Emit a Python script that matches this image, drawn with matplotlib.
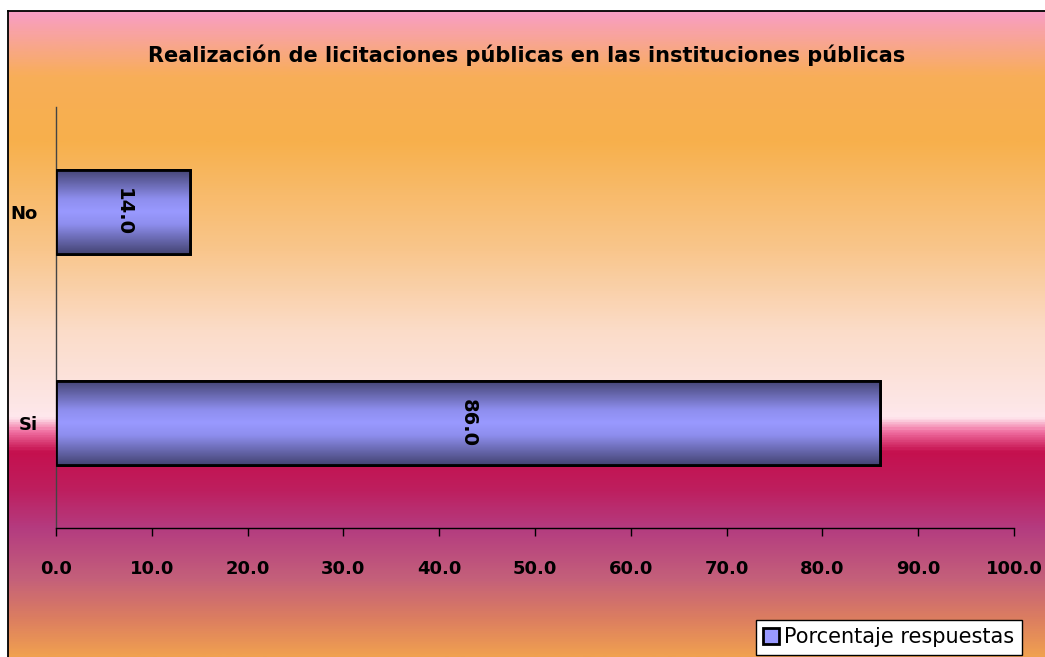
import numpy as np
import matplotlib
matplotlib.use("Agg")
import matplotlib.pyplot as plt
from matplotlib.colors import LinearSegmentedColormap

# data
categories = ["Si", "No"]
values = [86.0, 14.0]
x_ticks = [0, 10, 20, 30, 40, 50, 60, 70, 80, 90, 100]
series_name = "Porcentaje respuestas"
title = "Realización de licitaciones públicas en las instituciones públicas"

W, H = 1045, 657
fig = plt.figure(figsize=(W / 100, H / 100), dpi=100, facecolor="white")

# background gradient (top -> bottom)
bg_stops = [
    (0.000, "#F99EC4"),
    (0.037, "#F8A49C"),
    (0.099, "#F8AE58"),
    (0.200, "#F7B04C"),
    (0.370, "#F9C68C"),
    (0.494, "#FBDCC8"),
    (0.610, "#FDE6E6"),
    (0.630, "#FFE8EE"),
    (0.652, "#F06EA0"),
    (0.683, "#C5104E"),
    (0.741, "#BE1E5E"),
    (0.803, "#B43C80"),
    (0.881, "#C4607A"),
    (0.943, "#DC7E60"),
    (1.000, "#F0A050"),
]
bg_cmap = LinearSegmentedColormap.from_list("bg", bg_stops)
bg = fig.add_axes([8 / W, 0, 1 - 8 / W, (H - 11) / H])
bg.imshow(np.linspace(0, 1, 800).reshape(-1, 1), cmap=bg_cmap, aspect="auto",
          extent=[0, 1, 0, 1], interpolation="bilinear")
bg.set_xlim(0, 1)
bg.set_ylim(0, 1)
bg.set_xticks([])
bg.set_yticks([])
for side in ["right", "bottom"]:
    bg.spines[side].set_visible(False)
for side in ["left", "top"]:
    bg.spines[side].set_linewidth(1.3)
    bg.spines[side].set_color("black")

fig.text(527 / W, 1 - 55 / H, title, ha="center", va="center",
         fontsize=15, fontweight="bold")

# plot area
ax = fig.add_axes([56 / W, 1 - 528 / H, (1014 - 56) / W, (528 - 107) / H])
ax.patch.set_alpha(0)
y = np.arange(len(categories))

bars = ax.barh(y, values, height=0.4, color="#9999FF", edgecolor="black",
               linewidth=2, label=series_name, zorder=2)

bar_cmap = LinearSegmentedColormap.from_list("bar", [
    (0.0, "#444473"), (0.35, "#8E8EEE"), (0.5, "#9999FF"),
    (0.65, "#8E8EEE"), (1.0, "#444473")])
grad = np.linspace(0, 1, 200).reshape(-1, 1)
for b in bars:
    x0, y0 = b.get_x(), b.get_y()
    im = ax.imshow(grad, cmap=bar_cmap, aspect="auto", interpolation="bilinear",
                   extent=[x0, x0 + b.get_width(), y0, y0 + b.get_height()], zorder=3)
    im.set_clip_path(b)
ax.barh(y, values, height=0.4, fill=False, edgecolor="black", linewidth=2, zorder=4)

for yi, v in zip(y, values):
    ax.text(v / 2, yi, f"{v:.1f}", rotation=-90, ha="center", va="center",
            fontsize=14, fontweight="bold", zorder=5)

ax.set_xlim(0, 100)
ax.set_ylim(-0.5, len(categories) - 0.5)
ax.set_xticks(x_ticks)
ax.set_xticklabels([f"{t:.1f}" for t in x_ticks], fontsize=13, fontweight="bold")
ax.set_yticks(y)
ax.set_yticklabels(categories, fontsize=13, fontweight="bold")
ax.tick_params(axis="x", direction="out", length=6, width=1, pad=17)
ax.tick_params(axis="y", length=0, pad=13)
ax.spines["top"].set_visible(False)
ax.spines["right"].set_visible(False)
ax.spines["left"].set_color("#444444")
ax.spines["left"].set_linewidth(1)
ax.spines["bottom"].set_linewidth(1)

fig.legend(handles=[bars], labels=[series_name], loc="upper left",
           bbox_to_anchor=(756 / W, 1 - 620 / H), fontsize=15, frameon=True,
           fancybox=False, edgecolor="black", facecolor="white", framealpha=1,
           borderaxespad=0, borderpad=0.35, handlelength=0.75, handleheight=0.75,
           handletextpad=0.25)

fig.savefig("out.png", dpi=100)
